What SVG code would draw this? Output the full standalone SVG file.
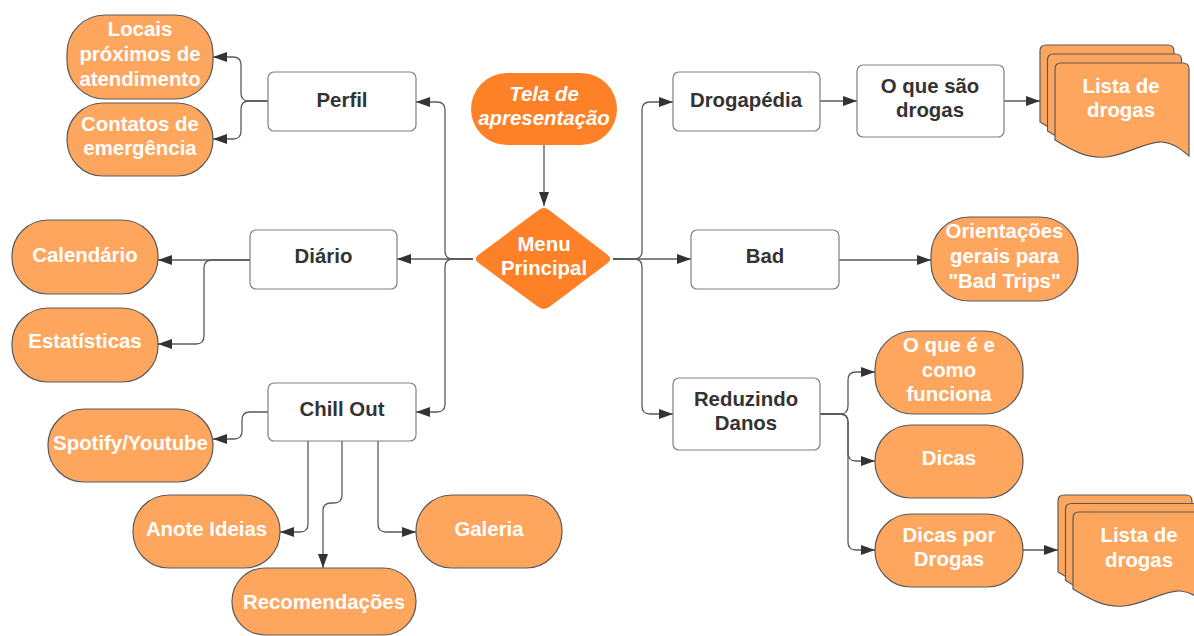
<svg xmlns="http://www.w3.org/2000/svg" width="1194" height="636" viewBox="0 0 1194 636">
<style>
.box{fill:#ffffff;stroke:#808080;stroke-width:1.2}
.pill{fill:#FFA65E;stroke:#5a5a5a;stroke-width:1.2}
.main{fill:#FE8127}
.sheet{fill:#FFA65E;stroke:#5a5a5a;stroke-width:1.2}
.t{font-family:"Liberation Sans",Arial,sans-serif;font-size:20.4px;font-weight:bold;text-anchor:middle}
.dk{fill:#333333}
.wt{fill:#ffffff}
.it{font-style:italic}
.c{fill:none;stroke:#5a5a5a;stroke-width:1.3}
</style>
<defs>
<marker id="arr" markerWidth="14" markerHeight="10" refX="14" refY="5" orient="auto" markerUnits="userSpaceOnUse">
<path d="M0,0 L14,5 L0,10 z" fill="#333333"/>
</marker>
<path id="doc" d="M0,6 Q0,0 6,0 H128 Q134,0 134,6 V93 C128,88 120,80 107,79 C92,78 72,92 51,94 C31,96 15,86 0,77 Z"/>
</defs>

<g id="connectors">
<path class="c" d="M544,145 V206" marker-end="url(#arr)"/>
<path class="c" d="M473,259 H397" marker-end="url(#arr)"/>
<path class="c" d="M473,259 H453 Q445,259 445,251 V110 Q445,102 437,102 H416" marker-end="url(#arr)"/>
<path class="c" d="M473,259 H453 Q445,259 445,267 V404 Q445,412 437,412 H416" marker-end="url(#arr)"/>
<path class="c" d="M613,259 H691" marker-end="url(#arr)"/>
<path class="c" d="M613,259 H634 Q642,259 642,251 V110 Q642,102 650,102 H673" marker-end="url(#arr)"/>
<path class="c" d="M613,259 H634 Q642,259 642,267 V406 Q642,414 650,414 H673" marker-end="url(#arr)"/>
<path class="c" d="M268,101 H249 Q241,101 241,93 V65 Q241,57 233,57 H213" marker-end="url(#arr)"/>
<path class="c" d="M268,101 H249 Q241,101 241,109 V131 Q241,139 233,139 H213" marker-end="url(#arr)"/>
<path class="c" d="M250,260 H158" marker-end="url(#arr)"/>
<path class="c" d="M250,260 H212 Q204,260 204,268 V336 Q204,344 196,344 H158" marker-end="url(#arr)"/>
<path class="c" d="M268,412 H250 Q242,412 242,420 V431 Q242,439 234,439 H213" marker-end="url(#arr)"/>
<path class="c" d="M308,441 V524 Q308,532 300,532 H280" marker-end="url(#arr)"/>
<path class="c" d="M342,441 V495 Q342,503 334,503 H331 Q323,503 323,511 V568" marker-end="url(#arr)"/>
<path class="c" d="M378,441 V524 Q378,532 386,532 H416" marker-end="url(#arr)"/>
<path class="c" d="M820,101 H857" marker-end="url(#arr)"/>
<path class="c" d="M1004,101 H1040" marker-end="url(#arr)"/>
<path class="c" d="M839,260 H931" marker-end="url(#arr)"/>
<path class="c" d="M820,414 H840 Q848,414 848,406 V380 Q848,372 856,372 H875" marker-end="url(#arr)"/>
<path class="c" d="M820,414 H840 Q848,414 848,422 V453 Q848,461 856,461 H875" marker-end="url(#arr)"/>
<path class="c" d="M820,414 H840 Q848,414 848,422 V542 Q848,550 856,550 H875" marker-end="url(#arr)"/>
<path class="c" d="M1023,550 H1058" marker-end="url(#arr)"/>
</g>

<g id="tela">
<rect class="main" x="471" y="73" width="146" height="72" rx="36"/>
<text class="t wt it" x="544" y="101">Tela de</text>
<text class="t wt it" x="544" y="125">apresentação</text>
</g>
<g id="menu">
<path class="main" d="M549.5,210.3 L607.4,254.7 Q613,259 607.4,263.2 L549.6,306.8 Q544,311 538.3,306.9 L478.6,263.1 Q473,259 478.6,254.8 L538.4,210.2 Q544,206 549.5,210.3 Z"/>
<text class="t wt" x="544" y="251">Menu</text>
<text class="t wt" x="544" y="275">Principal</text>
</g>

<g id="perfil">
<rect class="box" x="268" y="72" width="148" height="59" rx="6"/>
<text class="t dk" x="342" y="107">Perfil</text>
</g>
<g id="locais">
<rect class="pill" x="67" y="15" width="146" height="84" rx="38"/>
<text class="t wt" x="140" y="36">Locais</text>
<text class="t wt" x="140" y="61">próximos de</text>
<text class="t wt" x="140" y="86">atendimento</text>
</g>
<g id="contatos">
<rect class="pill" x="67" y="103" width="146" height="73" rx="36"/>
<text class="t wt" x="140" y="131">Contatos de</text>
<text class="t wt" x="140" y="155">emergência</text>
</g>

<g id="diario">
<rect class="box" x="250" y="230" width="147" height="59" rx="6"/>
<text class="t dk" x="323.5" y="263">Diário</text>
</g>
<g id="calendario">
<rect class="pill" x="12" y="220" width="146" height="74" rx="36"/>
<text class="t wt" x="85" y="262">Calendário</text>
</g>
<g id="estatisticas">
<rect class="pill" x="12" y="308" width="146" height="74" rx="36"/>
<text class="t wt" x="85" y="348">Estatísticas</text>
</g>

<g id="chillout">
<rect class="box" x="268" y="383" width="148" height="58" rx="6"/>
<text class="t dk" x="342" y="416">Chill Out</text>
</g>
<g id="spotify">
<rect class="pill" x="48" y="409" width="165" height="73" rx="36"/>
<text class="t wt" x="130.5" y="450">Spotify/Youtube</text>
</g>
<g id="anote">
<rect class="pill" x="133" y="495" width="147" height="73" rx="36"/>
<text class="t wt" x="206.5" y="536">Anote Ideias</text>
</g>
<g id="recomendacoes">
<rect class="pill" x="232" y="568" width="184" height="67" rx="33"/>
<text class="t wt" x="324" y="609">Recomendações</text>
</g>
<g id="galeria">
<rect class="pill" x="416" y="495" width="146" height="73" rx="36"/>
<text class="t wt" x="489" y="536">Galeria</text>
</g>

<g id="drogapedia">
<rect class="box" x="673" y="72" width="147" height="59" rx="6"/>
<text class="t dk" x="746" y="107">Drogapédia</text>
</g>
<g id="oquesao">
<rect class="box" x="857" y="65" width="147" height="72" rx="6"/>
<text class="t dk" x="930" y="93">O que são</text>
<text class="t dk" x="930" y="117">drogas</text>
</g>
<g id="lista1">
<use href="#doc" class="sheet" x="1040" y="45"/>
<use href="#doc" class="sheet" x="1047.5" y="54"/>
<use href="#doc" class="sheet" x="1055" y="63"/>
<text class="t wt" x="1121" y="93">Lista de</text>
<text class="t wt" x="1121" y="117">drogas</text>
</g>

<g id="bad">
<rect class="box" x="691" y="230" width="148" height="59" rx="6"/>
<text class="t dk" x="765" y="263">Bad</text>
</g>
<g id="orientacoes">
<rect class="pill" x="931" y="217" width="147" height="84" rx="38"/>
<text class="t wt" x="1004.5" y="238">Orientações</text>
<text class="t wt" x="1004.5" y="263">gerais para</text>
<text class="t wt" x="1004.5" y="288">"Bad Trips"</text>
</g>

<g id="reduzindo">
<rect class="box" x="673" y="378" width="147" height="72" rx="6"/>
<text class="t dk" x="746" y="406">Reduzindo</text>
<text class="t dk" x="746" y="430">Danos</text>
</g>
<g id="oquee">
<rect class="pill" x="875" y="331" width="148" height="83" rx="38"/>
<text class="t wt" x="949" y="352">O que é e</text>
<text class="t wt" x="949" y="377">como</text>
<text class="t wt" x="949" y="401">funciona</text>
</g>
<g id="dicas">
<rect class="pill" x="875" y="425" width="148" height="73" rx="36"/>
<text class="t wt" x="949" y="465">Dicas</text>
</g>
<g id="dicaspor">
<rect class="pill" x="875" y="514" width="148" height="73" rx="36"/>
<text class="t wt" x="949" y="542">Dicas por</text>
<text class="t wt" x="949" y="566">Drogas</text>
</g>
<g id="lista2">
<use href="#doc" class="sheet" x="1058" y="495"/>
<use href="#doc" class="sheet" x="1065.5" y="503.5"/>
<use href="#doc" class="sheet" x="1073" y="512"/>
<text class="t wt" x="1139" y="542">Lista de</text>
<text class="t wt" x="1139" y="567">drogas</text>
</g>
</svg>
